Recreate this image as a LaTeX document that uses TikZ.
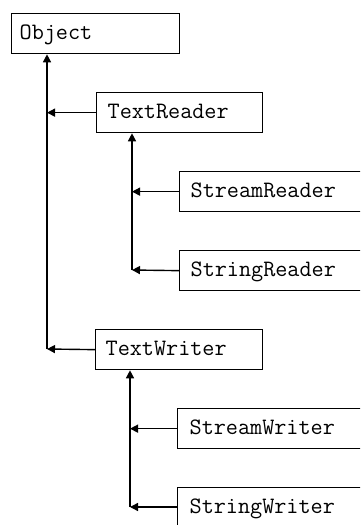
\documentclass[tikz,border=0pt]{standalone}
\usetikzlibrary{arrows.meta}
\begin{document}
\begin{tikzpicture}[x=1pt,y=-1pt,
  cls/.style={draw, line width=1.3pt, anchor=north west, inner sep=0pt,
    minimum height=40pt, text height=15pt, text depth=4pt,
    align=left, font=\ttfamily\fontsize{23.5}{25}\selectfont},
  arr/.style={line width=1.4pt, -{Triangle[length=8pt,width=8pt]}}]
\useasboundingbox (0,0) rectangle (360,525);
\clip (0,0) rectangle (360,525);
\node[cls, text width=168pt] (obj) at (11,13) {\hspace*{8pt}Object};
\node[cls, text width=166pt] (tr) at (96,92) {\hspace*{11pt}TextReader};
\node[cls, text width=200pt] (srd) at (179,171) {\hspace*{11pt}StreamReader};
\node[cls, text width=200pt] (strd) at (179,250) {\hspace*{11pt}StringReader};
\node[cls, text width=167pt] (tw) at (95,329) {\hspace*{10pt}TextWriter};
\node[cls, text width=200pt] (sw) at (177,408) {\hspace*{12pt}StreamWriter};
\node[cls, text width=200pt] (stw) at (177,487) {\hspace*{12pt}StringWriter};
\coordinate (j1) at (47,349);
\coordinate (j2) at (132,270);
\coordinate (j3) at (130,507);
% trunk from Object
\draw[arr] (j1) -- (j1 |- obj.south);
\draw[arr] (tr.west) -- (tr.west -| j1);
\draw[arr] (tw.west) -- (j1);
% TextReader branch
\draw[arr] (j2) -- (j2 |- tr.south);
\draw[arr] (srd.west) -- (srd.west -| j2);
\draw[arr] (strd.west) -- (j2);
% TextWriter branch
\draw[arr] (j3) -- (j3 |- tw.south);
\draw[arr] (sw.west) -- (sw.west -| j3);
\draw[arr] (stw.west |- j3) -- (j3);
\end{tikzpicture}
\end{document}
